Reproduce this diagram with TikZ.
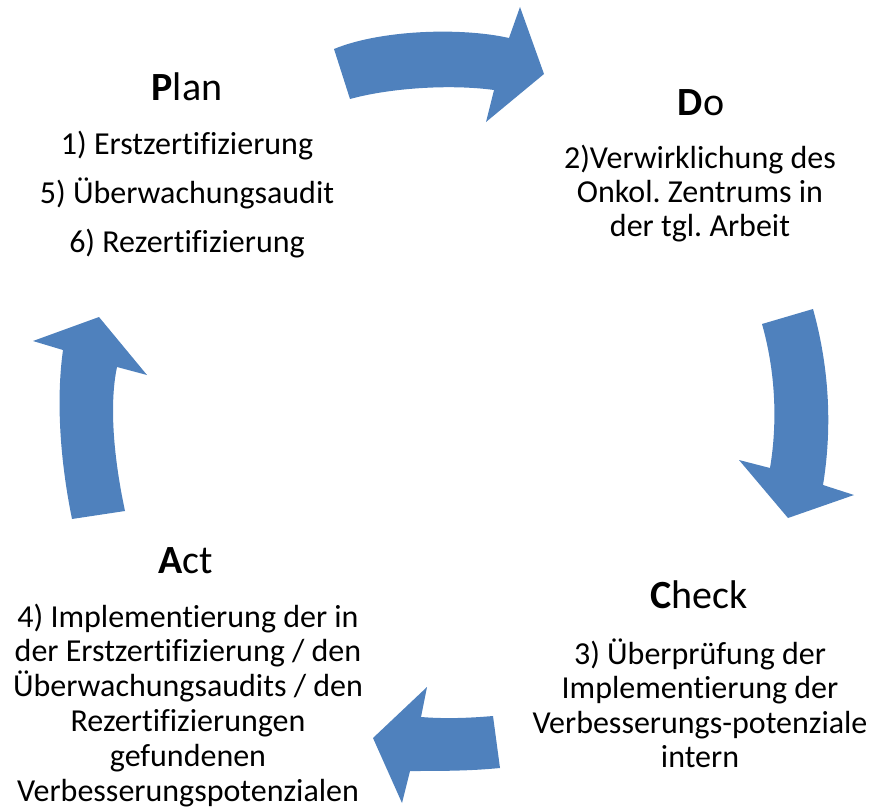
\documentclass[tikz,border=0pt]{standalone}
\usepackage{fontspec}
\setmainfont{Carlito}[Ligatures={NoCommon,NoContextual}]
\newcommand\pdcalines[2]{\vtop{\baselineskip=#1\lineskiplimit=-50pt\lineskip=0pt\halign{\hfil##\hfil\cr#2\crcr}}}
\definecolor{arrowblue}{HTML}{4F81BD}
\tikzset{
  cyclearrow/.style={fill=arrowblue, draw=none},
  phasetitle/.style={font=\fontsize{40}{48}\selectfont, anchor=base, inner sep=0pt},
  phasebody/.style={font=\fontsize{32}{38}\selectfont\frenchspacing, anchor=base, inner sep=0pt},
}
\begin{document}
\begin{tikzpicture}[x=1pt,y=-1pt]
\useasboundingbox (0,0) rectangle (871,808);
% arrows
\path[cyclearrow] (334,49) .. controls (380,30) and (460,27) .. (509,38) -- (520,7) -- (544,74) -- (486,122) -- (494,90) .. controls (450,84) and (390,88) .. (350,99) -- cycle;
\path[cyclearrow] (762,324) -- (813,309) .. controls (830,370) and (832,430) .. (823,485) -- (854,495) -- (788,518) -- (739,460) -- (770,468) .. controls (778,420) and (775,370) .. (762,324) -- cycle;
\path[cyclearrow] (493,716) -- (500,768) .. controls (470,771) and (440,771) .. (410,771) -- (402,803) -- (373,738) -- (427,687) -- (421,717) .. controls (445,719) and (470,718) .. (493,716) -- cycle;
\path[cyclearrow] (99,317) -- (147,375) -- (117,367) .. controls (110,400) and (112,450) .. (125,511) -- (72,519) .. controls (60,460) and (56,400) .. (63,350) -- (33,341) -- cycle;
% titles
\node[phasetitle] (plantitle) at (187,101) {\textbf{P}lan};
\node[phasetitle] (dotitle) at (701,115) {\textbf{D}o};
\node[phasetitle] (checktitle) at (699,608) {\textbf{C}heck};
\node[phasetitle] (acttitle) at (186,573) {\textbf{A}ct};
% bodies
\node[phasebody] (planbody) at (187,154) {\pdcalines{49pt}{1) Erstzertifizierung\cr 5) Überwachungsaudit\cr 6) Rezertifizierung}};
\node[phasebody] (dobody) at (700,168) {\pdcalines{34pt}{2)Verwirklichung des\cr Onkol. Zentrums in\cr der tgl. Arbeit}};
\node[phasebody] (checkbody) at (700,664) {\pdcalines{34.5pt}{3) Überprüfung der\cr Implementierung der\cr Verbesserungs-potenziale\cr intern}};
\node[phasebody] (actbody) at (188,627) {\pdcalines{34.8pt}{4) Implementierung der in\cr der Erstzertifizierung / den\cr Überwachungsaudits / den\cr Rezertifizierungen\cr gefundenen\cr Verbesserungspotenzialen}};
\end{tikzpicture}
\end{document}
